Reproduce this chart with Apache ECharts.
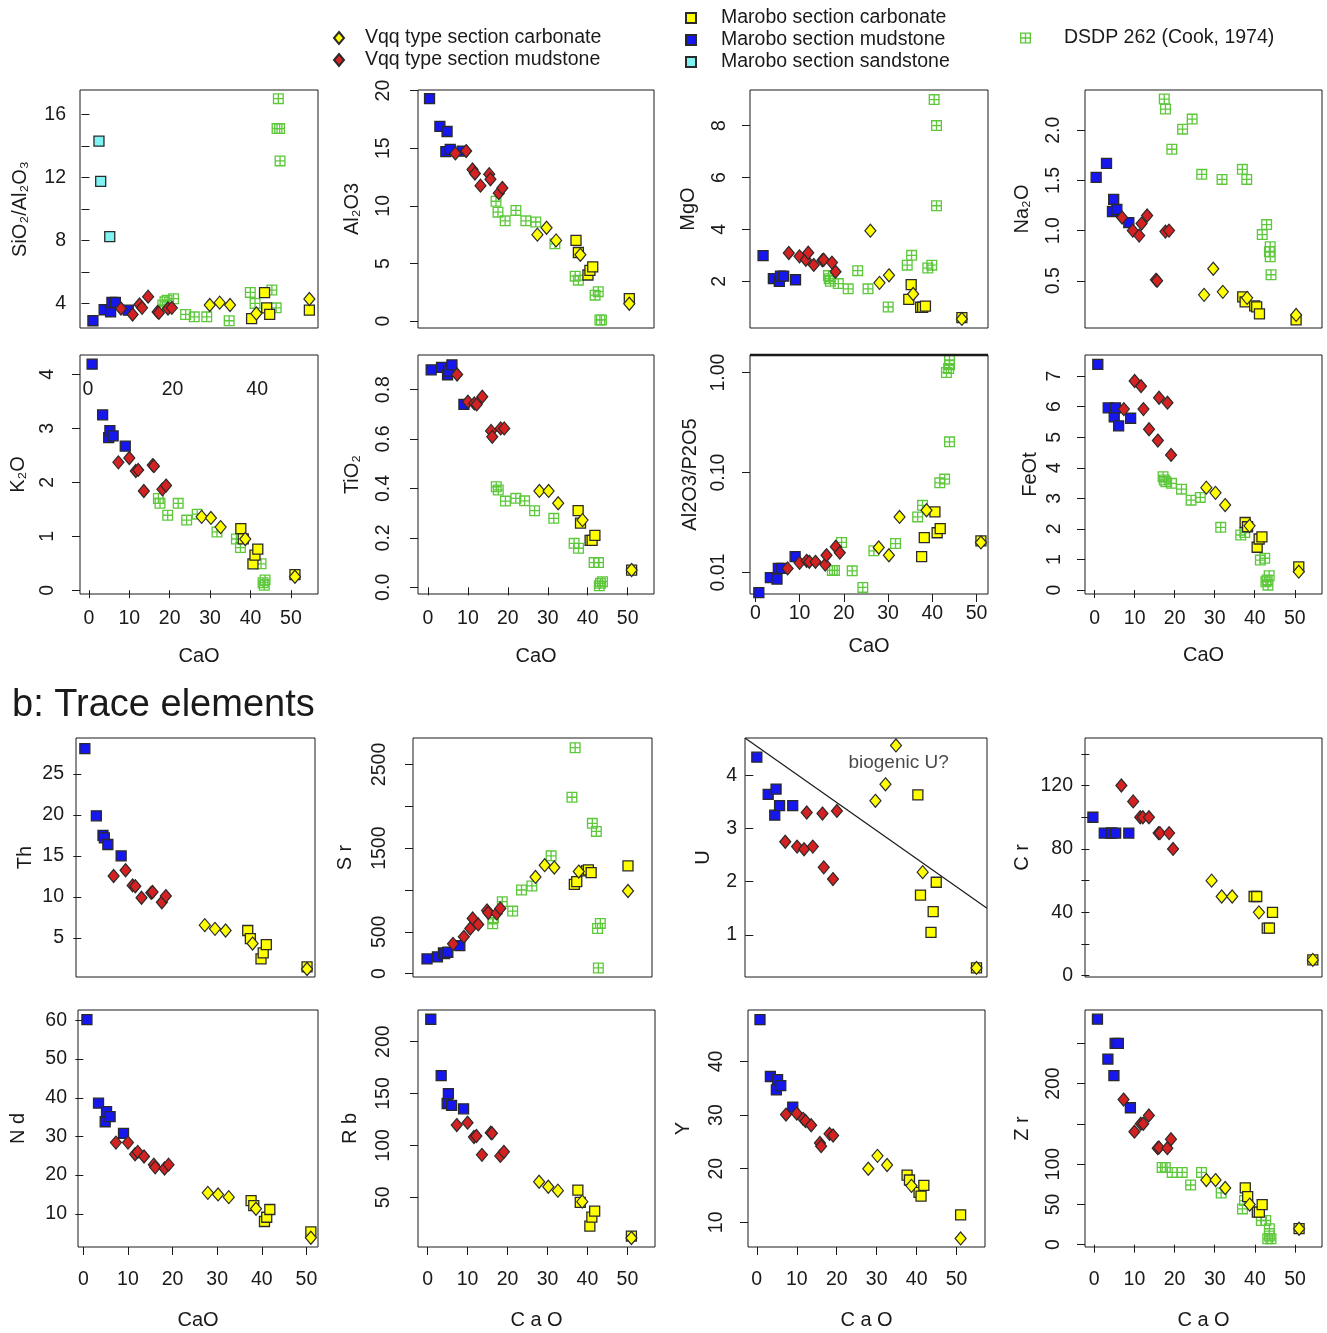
<!DOCTYPE html>
<html>
<head>
<meta charset="utf-8">
<script src="https://cdn.jsdelivr.net/npm/echarts@6/dist/echarts.min.js"></script>
<style>
html, body { margin: 0; background: #fff; }
#main { width: 1327px; height: 1333px; }
</style>
</head>
<body>
<div id="main"></div>
<script>
// CaO (wt%) of each sample group; the per-panel arrays below line up with these
var caoVqqCarb = [27.9, 30.2, 32.6, 38.7, 51.0];
var caoVqqMud  = [7.3, 10.0, 11.6, 12.2, 13.6, 15.8, 16.1, 18.2, 19.1];
var caoMarCarb = [37.6, 38.2, 40.6, 41.1, 41.8, 51.0];
var caoMarMud  = [0.8, 3.4, 4.9, 5.2, 6.0, 9.0];
var caoMarSand = [2.2, 2.6, 4.7];

// a: major elements
var sio2VqqCarb = [3.9, 4.05, 3.9, 3.36, 4.28];
var sio2VqqMud  = [3.68, 3.3, 3.93, 3.72, 4.43, 3.46, 3.4, 3.68, 3.72];
var sio2MarCarb = [3.04, null, 4.68, 3.72, 3.31, 3.57];
var sio2MarMud  = [2.9, 3.6, 3.46, 4.06, 4.06, 3.57];
var sio2MarSand = [14.3, 11.75, 8.24];
var sio2Dsdp = [[17.0,3.9],[17.5,4.1],[18.0,4.2],[19.5,4.3],[22.3,3.3],[24.3,3.15],[27.2,3.15],[32.4,2.9],[37.3,4.7],[38.4,4.0],[42.3,4.85],[43.3,3.72],[43.8,17.0],[43.5,15.1],[44.1,15.1],[44.2,13.05]];

var al2o3VqqCarb = [7.5, 8.1, 7.0, 5.75, 1.5];
var al2o3VqqMud  = [14.55, 14.75, 13.15, 12.8, 11.75, 12.75, 12.3, 11.1, 11.55];
var al2o3MarCarb = [7.0, 5.95, 4.0, 4.4, 4.7, 1.95];
var al2o3MarMud  = [19.3, 16.9, 14.7, 16.45, 14.9, 14.75];
var al2o3Dsdp = [[17.5,10.4],[18.0,9.45],[19.8,8.7],[22.5,9.6],[25.0,8.7],[27.5,8.6],[32.3,6.7],[37.4,3.9],[38.2,3.55],[42.4,2.25],[43.2,2.55],[43.6,0.1],[44.0,0.1]];

var mgoVqqCarb = [3.95, 1.94, 2.23, 1.51, 0.55];
var mgoVqqMud  = [3.09, 2.96, 2.83, 3.1, 2.63, 2.81, 2.83, 2.72, 2.37];
var mgoMarCarb = [1.3, 1.87, 1.0, 1.0, 1.04, 0.6];
var mgoMarMud  = [2.99, 2.1, 2.0, 2.2, 2.2, 2.06];
var mgoDsdp = [[17.3,2.22],[17.5,2.1],[17.8,2.0],[19.8,1.91],[22.3,1.71],[24.7,2.41],[27.3,1.71],[32.4,1.01],[37.2,2.62],[38.3,3.0],[42.4,2.51],[43.4,2.62],[44.0,9.0],[44.6,8.0],[44.6,4.91]];

var na2oVqqCarb = [0.36, 0.62, 0.39, 0.33, 0.16];
var na2oVqqMud  = [1.13, 1.0, 0.95, 1.07, 1.15, 0.51, 0.5, 0.99, 1.0];
var na2oMarCarb = [0.34, 0.29, 0.25, 0.24, 0.17, 0.11];
var na2oMarMud  = [1.53, 1.67, 1.19, 1.31, 1.21, 1.08];
var na2oDsdp = [[17.9,2.31],[18.2,2.21],[19.8,1.81],[22.5,2.01],[24.9,2.11],[27.3,1.56],[32.4,1.51],[37.5,1.61],[38.6,1.51],[42.5,0.96],[43.6,1.06],[44.3,0.79],[44.5,0.74],[44.5,0.84],[44.7,0.56]];

var k2oVqqCarb = [1.36, 1.34, 1.17, 0.95, 0.25];
var k2oVqqMud  = [2.37, 2.45, 2.21, 2.23, 1.84, 2.32, 2.3, 1.87, 1.94];
var k2oMarCarb = [1.14, 0.95, 0.49, 0.65, 0.76, 0.29];
var k2oMarMud  = [4.19, 3.25, 2.83, 2.96, 2.86, 2.67];
var k2oDsdp = [[17.2,1.7],[17.6,1.61],[19.5,1.39],[22.1,1.61],[24.2,1.3],[26.8,1.41],[31.7,1.08],[36.5,0.95],[37.5,0.79],[42.6,0.49],[43.1,0.14],[43.6,0.19],[43.4,0.09]];

var tio2VqqCarb = [0.39, 0.39, 0.34, 0.272, 0.07];
var tio2VqqMud  = [0.861, 0.751, 0.744, 0.74, 0.771, 0.633, 0.609, 0.643, 0.643];
var tio2MarCarb = [0.31, 0.26, 0.19, 0.19, 0.21, 0.07];
var tio2MarMud  = [0.88, 0.89, 0.86, 0.875, 0.90, 0.74];
var tio2Dsdp = [[17.1,0.407],[17.6,0.394],[19.4,0.349],[22.0,0.36],[24.2,0.35],[26.7,0.31],[31.5,0.279],[36.6,0.178],[37.7,0.158],[41.6,0.1],[42.7,0.1],[43.2,0.016],[43.7,0.023],[42.9,0.006]];

var alpVqqCarb = [0.0178, 0.0149, 0.036, 0.042, 0.020];
var alpVqqMud  = [0.011, 0.0125, 0.0131, 0.0128, 0.0128, 0.012, 0.0149, 0.0181, 0.0158];
var alpMarCarb = [0.0144, 0.0224, 0.0404, 0.025, 0.0275, 0.0207];
var alpMarMud  = [0.0063, 0.0089, 0.0086, 0.011, 0.011, 0.0144];
var alpDsdp = [[17.4,0.0105],[17.9,0.0105],[19.5,0.020],[21.9,0.0104],[24.3,0.0071],[26.8,0.0165],[31.7,0.0195],[36.7,0.036],[37.8,0.047],[41.7,0.079],[42.8,0.086],[43.9,0.203],[43.2,1.0],[43.7,1.1],[43.9,1.2],[43.9,1.32]];

var feoVqqCarb = [3.35, 3.18, 2.78, 2.1, 0.6];
var feoVqqMud  = [5.92, 6.84, 6.67, 5.92, 5.26, 4.89, 6.29, 6.13, 4.42];
var feoMarCarb = [2.21, 2.07, 1.4, 1.67, 1.74, 0.76];
var feoMarMud  = [7.38, 5.96, 5.67, 5.96, 5.37, 5.62];
var feoDsdp = [[17.1,3.71],[17.4,3.6],[17.8,3.54],[19.2,3.49],[21.7,3.3],[24.1,2.94],[26.4,3.03],[31.5,2.05],[36.5,1.8],[37.5,1.88],[41.4,0.98],[42.5,1.04],[43.1,0.33],[43.6,0.47],[43.3,0.16],[42.8,0.27]];

// b: trace elements
var thVqqCarb = [6.55, 6.1, 5.9, 4.3, 1.2];
var thVqqMud  = [12.55, 13.25, 11.4, 11.3, 9.9, 10.5, 10.6, 9.35, 10.1];
var thMarCarb = [5.9, 4.9, 2.43, 3.16, 4.18, 1.45];
var thMarMud  = [28.1, 19.9, 17.5, 17.2, 16.4, 15.0];

var srVqqCarb = [1156, 1296, 1268, 1220, 988];
var srVqqMud  = [356, 440, 540, 660, 588, 756, 728, 720, 780];
var srMarCarb = [1068, 1100, 1228, 1240, 1208, 1288];
var srMarMud  = [176, 200, 248, 240, 256, 336];
var srDsdp = [[17.2,596],[17.4,668],[19.6,860],[22.2,748],[24.4,1000],[27.0,1048],[31.8,1408],[37.0,2108],[37.8,2700],[42.1,1796],[43.1,1700],[43.4,540],[44.1,600],[43.6,68]];

var uVqqCarb = [3.52, 3.83, 4.56, 2.18, 0.38];
var uVqqMud  = [2.75, 2.66, 2.61, 3.3, 2.66, 3.28, 2.27, 2.05, 3.33];
var uMarCarb = [3.63, 1.75, 1.05, 1.44, 1.99, 0.38];
var uMarMud  = [4.34, 3.64, 3.25, 3.74, 3.43, 3.43];
var uLineEnd = 1.5;          // U value where the dividing line meets the right frame
var uNoteAt = [33.2, 4.24];  // "biogenic U?"

var crVqqCarb = [60, 50, 50, 40, 10];
var crVqqMud  = [120, 110, 100, 100, 100, 90, 90, 90, 80];
var crMarCarb = [50, 50, 30, 30, 40, 10];
var crMarMud  = [100, 90, 90, 90, 90, 90];

var ndVqqCarb = [15.4, 15.0, 14.3, 11.3, 3.8];
var ndVqqMud  = [28.4, 28.4, 25.4, 26.0, 24.8, 22.7, 22.0, 21.7, 22.7];
var ndMarCarb = [13.4, 12.1, 8.0, 9.1, 11.1, 5.3];
var ndMarMud  = [60.2, 38.6, 33.8, 36.4, 35.1, 30.8];

var rbVqqCarb = [65, 60.2, 56.4, 45.8, 10.7];
var rbVqqMud  = [119.6, 121.9, 108.1, 109.1, 90.9, 112.3, 111.7, 89.9, 93.8];
var rbMarCarb = [57, 45.2, 22.2, 30.8, 36.6, 12.6];
var rbMarMud  = [221.6, 167.3, 140.4, 150, 138.5, 135.3];

var yVqqCarb = [20, 22.4, 20.7, 16.8, 7];
var yVqqMud  = [30.1, 30.3, 29.3, 28.9, 28.1, 24.8, 24.2, 26.5, 26.2];
var yMarCarb = [18.8, 17.9, 15.6, 14.9, 16.9, 11.4];
var yMarMud  = [47.8, 37.2, 34.7, 36.6, 35.5, 31.5];

var zrVqqCarb = [80.2, 80.2, 70.4, 49.8, 19.8];
var zrVqqMud  = [180.2, 140.3, 150.2, 150.2, 160.5, 119.8, 120.6, 119.8, 130.9];
var zrMarCarb = [70.4, 59.7, 40.3, 40.3, 49.8, 19.8];
var zrMarMud  = [280, 230.5, 210, 250, 250, 170];
var zrDsdp = [[16.9,95.9],[17.7,95.9],[19.4,89.7],[21.9,89.7],[24.0,74.1],[26.7,89.7],[31.6,64.2],[36.9,44.4],[37.4,54.7],[41.6,30],[42.7,30],[43.6,19.8],[43.6,10.7],[43.2,7.4],[44.0,7.4]];

var caoTicks = [0, 10, 20, 30, 40, 50];
var p1CaoLabels = [0, 20, 40];   // stray axis labels printed inside the K2O frame

var INK = '#1a1a1a';
var FONT = 'Liberation Sans, Arial, Helvetica, sans-serif';
var gridIcon = 'path://M0,0H10V10H0Z M1.2,1.2V4.4H4.4V1.2Z M5.6,1.2V4.4H8.8V1.2Z M1.2,5.6V8.8H4.4V5.6Z M5.6,5.6V8.8H8.8V5.6Z';

var NAMES = {
    vqqCarb: 'Vqq type section carbonate',
    vqqMud: 'Vqq type section mudstone',
    marCarb: 'Marobo section carbonate',
    marMud: 'Marobo section mudstone',
    marSand: 'Marobo section sandstone',
    dsdp: 'DSDP 262 (Cook, 1974)'
};

// draw order: DSDP at the back, Vqq diamonds on top
var groups = [
    { key: 'dsdp', symbol: gridIcon, size: 11, color: '#5cc83a', border: 0 },
    { key: 'marSand', cao: caoMarSand, symbol: 'rect', size: 10, color: '#7ff2f2', border: 1.3 },
    { key: 'marCarb', cao: caoMarCarb, symbol: 'rect', size: 10, color: '#ffff00', border: 1.3 },
    { key: 'marMud', cao: caoMarMud, symbol: 'rect', size: 10, color: '#1616ee', border: 1.3 },
    { key: 'vqqMud', cao: caoVqqMud, symbol: 'diamond', size: [11, 13], color: '#d42222', border: 1.2 },
    { key: 'vqqCarb', cao: caoVqqCarb, symbol: 'diamond', size: [11, 13], color: '#ffff00', border: 1.2 }
];

var fmt0 = function (v) { return String(v); };
var fmt1 = function (v) { return v.toFixed(1); };
var fmt2 = function (v) { return v.toFixed(2); };

var panels = [
    { box: [80, 90, 238, 238], x: [-2.2, 53.0], y: [2.44, 17.55], ticks: [4, 6, 8, 10, 12, 14, 16], labels: [4, 8, 12, 16], rot: 0, lm: 14, name: 'SiO₂/Al₂O₃', gap: 50,
      d: { vqqCarb: sio2VqqCarb, vqqMud: sio2VqqMud, marCarb: sio2MarCarb, marMud: sio2MarMud, marSand: sio2MarSand, dsdp: sio2Dsdp } },
    { box: [418, 90, 236, 238], x: [-2.1, 57.2], y: [-0.6, 20.05], ticks: [0, 5, 10, 15, 20], rot: 90, lm: 24, name: 'Al₂O3', gap: 56,
      d: { vqqCarb: al2o3VqqCarb, vqqMud: al2o3VqqMud, marCarb: al2o3MarCarb, marMud: al2o3MarMud, dsdp: al2o3Dsdp } },
    { box: [750, 90, 238, 238], x: [-2.5, 57.6], y: [0.2, 9.37], ticks: [2, 4, 6, 8], rot: 90, lm: 20, name: 'MgO', gap: 52,
      d: { vqqCarb: mgoVqqCarb, vqqMud: mgoVqqMud, marCarb: mgoMarCarb, marMud: mgoMarMud, dsdp: mgoDsdp } },
    { box: [1085, 90, 237, 238], x: [-2.0, 57.5], y: [0.03, 2.40], ticks: [0.5, 1, 1.5, 2], fmt: fmt1, rot: 90, lm: 21, name: 'Na₂O', gap: 53,
      d: { vqqCarb: na2oVqqCarb, vqqMud: na2oVqqMud, marCarb: na2oMarCarb, marMud: na2oMarMud, dsdp: na2oDsdp } },

    { box: [80, 355, 238, 239], x: [-2.2, 56.7], y: [-0.07, 4.36], ticks: [0, 1, 2, 3, 4], rot: 90, lm: 22, name: 'K₂O', gap: 52, xName: 'CaO', xm: 15, xg: 52,
      d: { vqqCarb: k2oVqqCarb, vqqMud: k2oVqqMud, marCarb: k2oMarCarb, marMud: k2oMarMud, dsdp: k2oDsdp } },
    { box: [418, 355, 236, 239], x: [-2.5, 56.6], y: [-0.027, 0.94], ticks: [0, 0.2, 0.4, 0.6, 0.8], fmt: fmt1, rot: 90, lm: 24, name: 'TiO₂', gap: 56, xName: 'CaO', xm: 15, xg: 52,
      d: { vqqCarb: tio2VqqCarb, vqqMud: tio2VqqMud, marCarb: tio2MarCarb, marMud: tio2MarMud, dsdp: tio2Dsdp } },
    { box: [750, 355, 238, 239], x: [-1.2, 52.6], log: true, y: [0.0061, 1.5], ticks: [0.01, 0.1, 1], fmt: fmt2, rot: 90, lm: 21, name: 'Al2O3/P2O5', gap: 50, xName: 'CaO', xm: 10, xg: 42,
      d: { vqqCarb: alpVqqCarb, vqqMud: alpVqqMud, marCarb: alpMarCarb, marMud: alpMarMud, dsdp: alpDsdp } },
    { box: [1085, 355, 237, 239], x: [-2.4, 56.8], y: [-0.13, 7.69], ticks: [0, 1, 2, 3, 4, 5, 6, 7], rot: 90, lm: 20, name: 'FeOt', gap: 45, xName: 'CaO', xm: 15, xg: 51,
      d: { vqqCarb: feoVqqCarb, vqqMud: feoVqqMud, marCarb: feoMarCarb, marMud: feoMarMud, dsdp: feoDsdp } },

    { box: [76, 738, 239, 239], x: [-1.2, 52.8], y: [0.22, 29.4], ticks: [5, 10, 15, 20, 25], rot: 0, lm: 12, name: 'Th', gap: 41,
      d: { vqqCarb: thVqqCarb, vqqMud: thVqqMud, marCarb: thMarCarb, marMud: thMarMud } },
    { box: [413, 738, 239, 239], x: [-2.7, 57.0], y: [-40, 2816], ticks: [0, 500, 1000, 1500, 2000, 2500], labels: [0, 500, 1500, 2500], rot: 90, lm: 23, name: 'S r', gap: 58,
      d: { vqqCarb: srVqqCarb, vqqMud: srVqqMud, marCarb: srMarCarb, marMud: srMarMud, dsdp: srDsdp } },
    { box: [745, 738, 242, 239], x: [-1.9, 53.4], y: [0.21, 4.7], ticks: [1, 2, 3, 4], rot: 0, lm: 8, name: 'U', gap: 32,
      d: { vqqCarb: uVqqCarb, vqqMud: uVqqMud, marCarb: uMarCarb, marMud: uMarMud } },
    { box: [1085, 738, 237, 239], x: [-1.0, 53.1], y: [-0.8, 150], ticks: [0, 20, 40, 60, 80, 100, 120, 140], labels: [0, 40, 80, 120], rot: 0, lm: 12, name: 'C r', gap: 53,
      d: { vqqCarb: crVqqCarb, vqqMud: crVqqMud, marCarb: crMarCarb, marMud: crMarMud } },

    { box: [78, 1010, 240, 237], x: [-1.2, 52.6], y: [1.4, 62.7], ticks: [10, 20, 30, 40, 50, 60], rot: 0, lm: 11, name: 'N d', gap: 50, xName: 'CaO', xm: 23, xg: 63,
      d: { vqqCarb: ndVqqCarb, vqqMud: ndVqqMud, marCarb: ndMarCarb, marMud: ndMarMud } },
    { box: [418, 1010, 237, 237], x: [-2.4, 56.9], y: [2.1, 230.5], ticks: [50, 100, 150, 200], rot: 90, lm: 24, name: 'R b', gap: 58, xName: 'C a O', xm: 23, xg: 63,
      d: { vqqCarb: rbVqqCarb, vqqMud: rbVqqMud, marCarb: rbMarCarb, marMud: rbMarMud } },
    { box: [748, 1010, 237, 237], x: [-2.2, 57.1], y: [5.4, 49.6], ticks: [10, 20, 30, 40], rot: 90, lm: 21, name: 'Y', gap: 55, xName: 'C a O', xm: 23, xg: 63,
      d: { vqqCarb: yVqqCarb, vqqMud: yVqqMud, marCarb: yMarCarb, marMud: yMarMud } },
    { box: [1085, 1010, 237, 237], x: [-2.3, 56.7], y: [-2.9, 291.4], ticks: [0, 50, 100, 150, 200, 250], labels: [0, 50, 100, 200], rot: 90, lm: 21, name: 'Z r', gap: 53, xName: 'C a O', xm: 23, xg: 63,
      d: { vqqCarb: zrVqqCarb, vqqMud: zrVqqMud, marCarb: zrMarCarb, marMud: zrMarMud, dsdp: zrDsdp } }
];

function pairUp(cao, vals) {
    var out = [];
    for (var i = 0; i < vals.length; i++) {
        if (vals[i] != null) out.push([cao[i], vals[i]]);
    }
    return out;
}

var legendText = { fontSize: 19.5, color: INK };
var option = {
    animation: false,
    backgroundColor: '#fff',
    textStyle: { fontFamily: FONT, color: INK },
    title: {
        text: 'b: Trace elements', left: 12, top: 687, padding: 0,
        textStyle: { fontSize: 38, fontWeight: 'normal', color: INK, fontFamily: FONT }
    },
    legend: [
        { left: 333, top: 28, padding: 0, orient: 'vertical', itemGap: 2, itemWidth: 10, itemHeight: 12, selectedMode: false,
          textStyle: Object.assign({ padding: [0, 0, 0, 16] }, legendText),
          data: [NAMES.vqqCarb, NAMES.vqqMud] },
        { left: 685, top: 8, padding: 0, orient: 'vertical', itemGap: 2, itemWidth: 10, itemHeight: 10, selectedMode: false,
          textStyle: Object.assign({ padding: [0, 0, 0, 20] }, legendText),
          data: [NAMES.marCarb, NAMES.marMud, NAMES.marSand] },
        { left: 1020, top: 28, padding: 0, orient: 'vertical', itemWidth: 11, itemHeight: 11, selectedMode: false,
          textStyle: Object.assign({ padding: [0, 0, 0, 28] }, legendText),
          data: [NAMES.dsdp] }
    ],
    grid: [], xAxis: [], yAxis: [], series: [],
    graphic: []
};

var tickAxes = [];
panels.forEach(function (p, i) {
    option.grid.push({
        left: p.box[0], top: p.box[1], width: p.box[2], height: p.box[3],
        show: true, borderColor: INK, borderWidth: 1, backgroundColor: 'transparent',
        outerBoundsMode: 'none'
    });
    var hasX = !!p.xName;
    option.xAxis.push({
        gridIndex: i, type: 'value', min: p.x[0], max: p.x[1],
        axisLine: { show: false }, splitLine: { show: false },
        axisTick: { show: hasX, length: 8, lineStyle: { color: INK }, customValues: caoTicks },
        axisLabel: { show: hasX, customValues: caoTicks, margin: p.xm || 8, fontSize: 19.5, color: INK },
        name: p.xName || '', nameLocation: 'middle', nameGap: p.xg || 30,
        nameTextStyle: { fontSize: 20, color: INK }
    });
    var yType = p.log ? 'log' : 'value';
    option.yAxis.push({
        gridIndex: i, type: yType, min: p.y[0], max: p.y[1], position: 'left',
        axisLine: { show: false }, splitLine: { show: false },
        // rotated labels push the ticks off the frame, so those panels get a tick-only twin axis
        axisTick: { show: !p.rot, length: 8, lineStyle: { color: INK }, customValues: p.ticks },
        axisLabel: { customValues: p.labels || p.ticks, rotate: p.rot, margin: p.lm, fontSize: 19.5, color: INK, formatter: p.fmt || fmt0 },
        name: p.name, nameLocation: 'middle', nameGap: p.gap,
        nameTextStyle: { fontSize: 20, color: INK }
    });
    if (p.rot) {
        tickAxes.push({
            gridIndex: i, type: yType, min: p.y[0], max: p.y[1], position: 'left', offset: 0,
            axisLine: { show: false }, splitLine: { show: false },
            axisTick: { show: true, length: 8, lineStyle: { color: INK }, customValues: p.ticks },
            axisLabel: { show: false }
        });
    }

    groups.forEach(function (g) {
        var vals = p.d[g.key];
        if (!vals) return;
        var data = g.key === 'dsdp' ? vals : pairUp(g.cao, vals);
        option.series.push({
            type: 'scatter', name: NAMES[g.key], xAxisIndex: i, yAxisIndex: i,
            data: data, symbol: g.symbol, symbolSize: g.size,
            itemStyle: { color: g.color, borderColor: '#2a2a2a', borderWidth: g.border, opacity: 1 },
            emphasis: { disabled: true }, silent: true
        });
    });
});
option.yAxis = option.yAxis.concat(tickAxes);

// U panel: dividing line from the top-left corner and its note
var pu = panels[10];
option.series.push({
    type: 'line', xAxisIndex: 10, yAxisIndex: 10,
    data: [[pu.x[0], pu.y[1]], [pu.x[1], uLineEnd]],
    symbol: 'none', lineStyle: { color: INK, width: 1.2 }, silent: true, z: 1
});
option.series.push({
    type: 'scatter', xAxisIndex: 10, yAxisIndex: 10, data: [uNoteAt],
    symbolSize: 0, silent: true,
    label: { show: true, position: 'inside', formatter: 'biogenic U?', fontSize: 19, color: INK }
});

// stray CaO labels of the first panel, printed inside the K2O frame
p1CaoLabels.forEach(function (v) {
    option.graphic.push({
        type: 'text', z: 10,
        x: 88 + v * 4.23, y: panels[4].box[1] + 35,
        style: { text: String(v), fontSize: 19.5, fill: INK, align: 'center', verticalAlign: 'middle', fontFamily: FONT }
    });
});
// heavier top edge of the Al2O3/P2O5 frame
option.graphic.push({
    type: 'line', z: 10,
    shape: { x1: panels[6].box[0], y1: panels[6].box[1], x2: panels[6].box[0] + panels[6].box[2], y2: panels[6].box[1] },
    style: { stroke: INK, lineWidth: 2.5 }
});

var chart = echarts.init(document.getElementById('main'), null, { renderer: 'canvas' });
chart.setOption(option);
</script>
</body>
</html>
